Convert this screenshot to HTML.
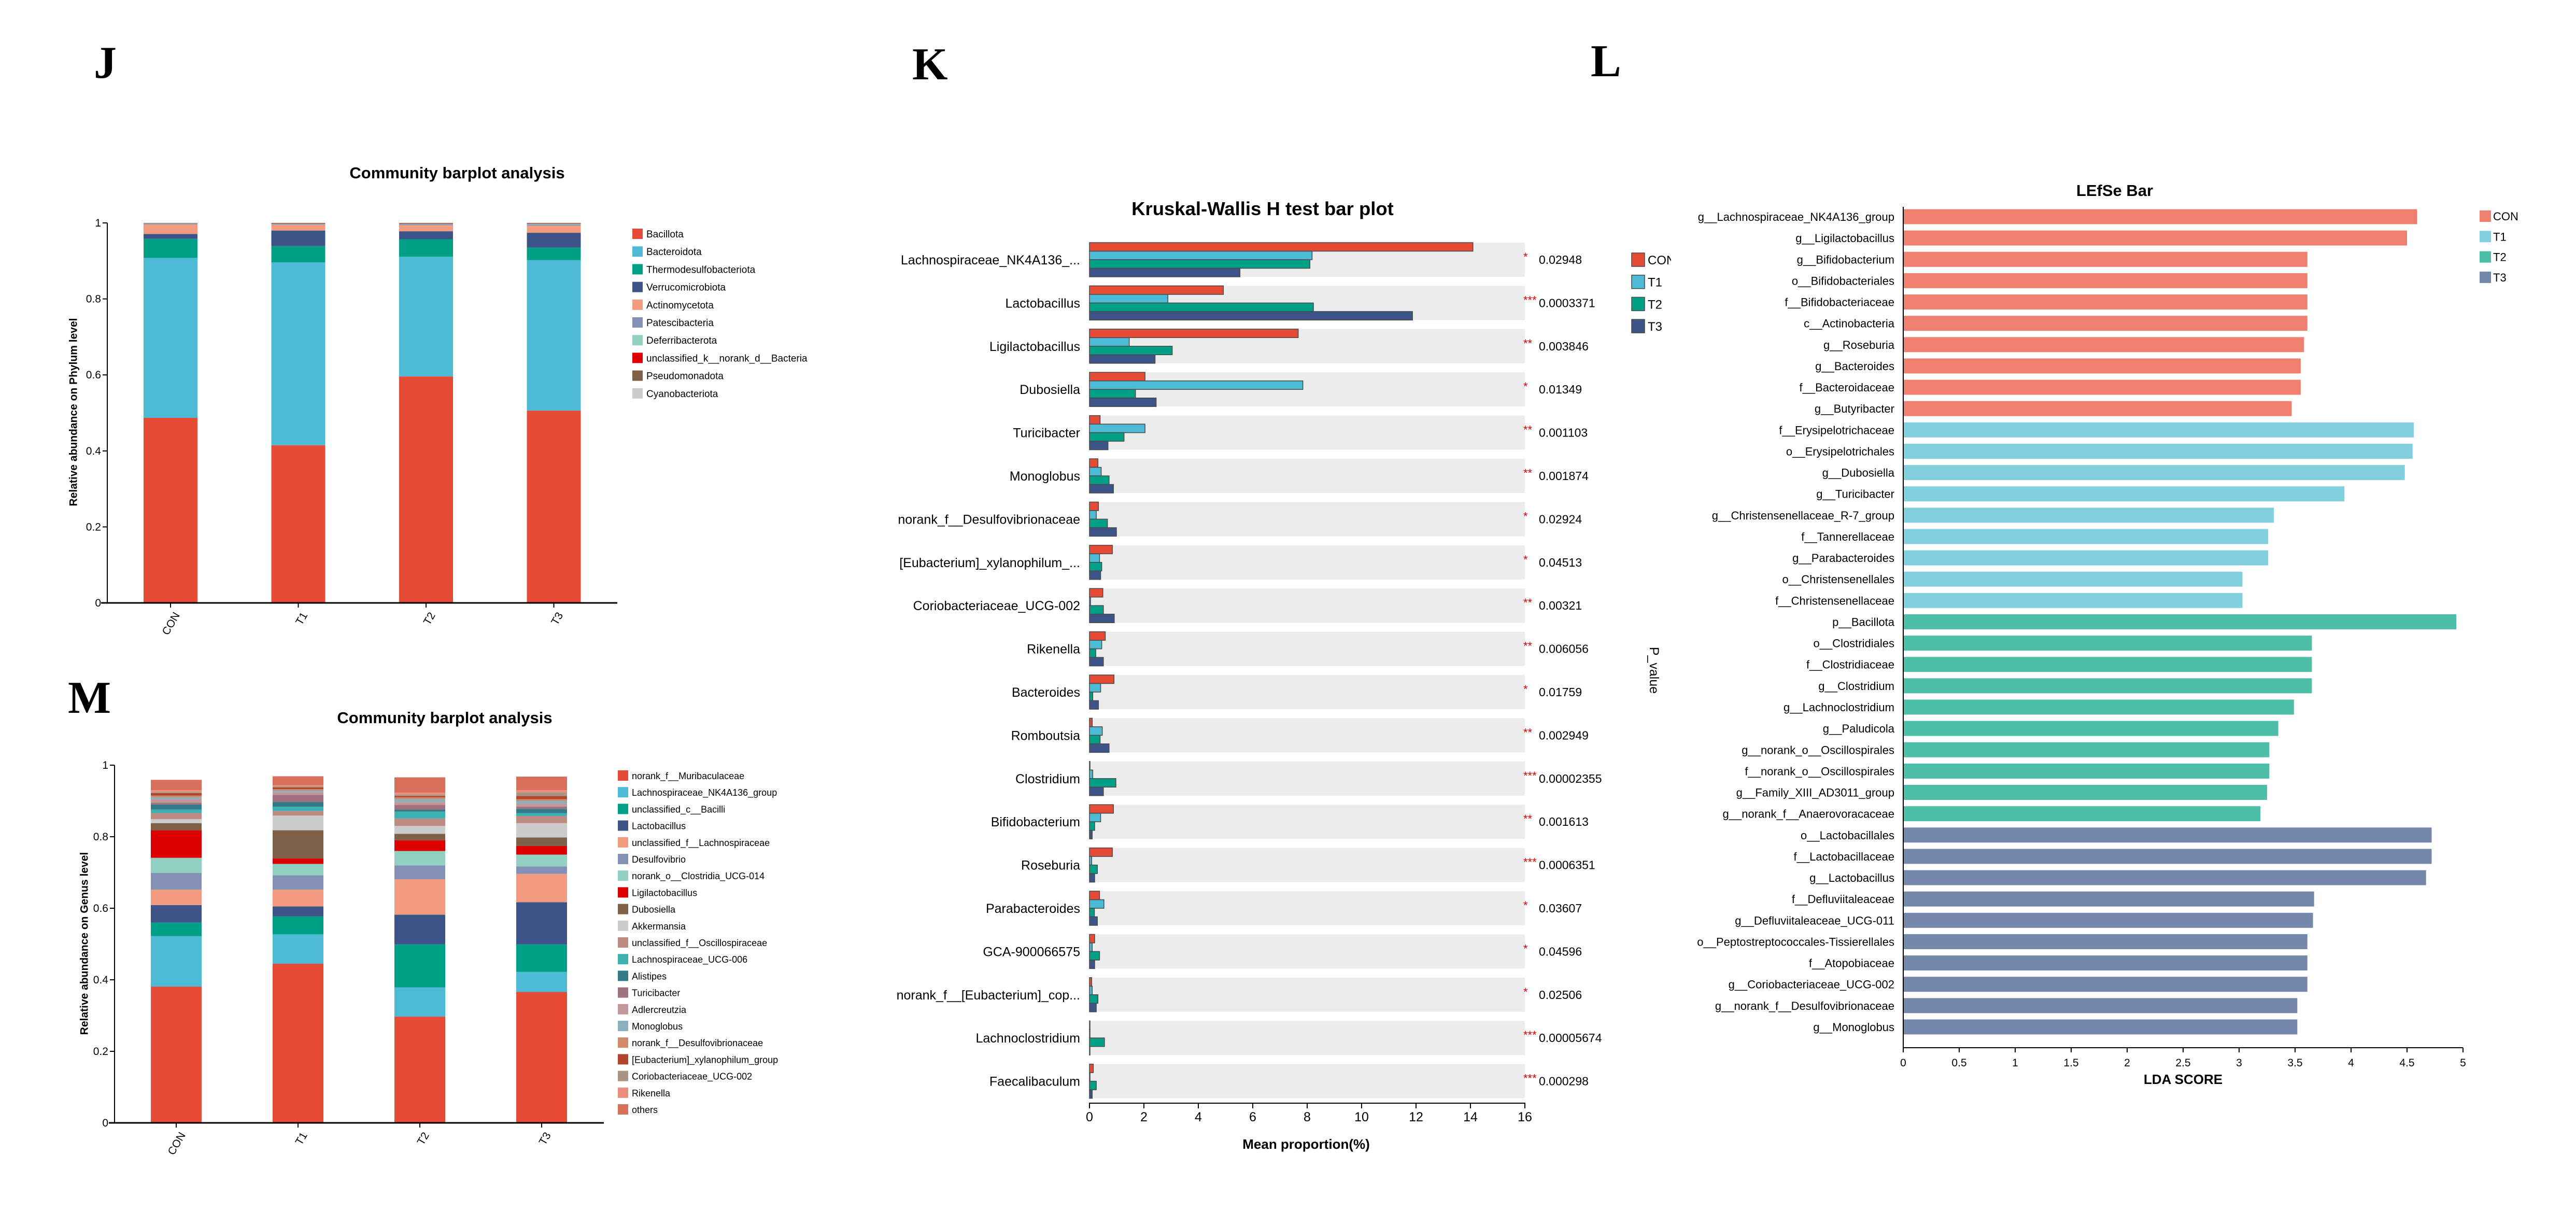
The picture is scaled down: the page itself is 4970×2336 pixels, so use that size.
<!DOCTYPE html>
<html><head><meta charset="utf-8">
<style>
html,body{margin:0;padding:0;background:#fff;}
svg{display:block;font-family:"Liberation Sans",Arial,sans-serif;}
</style></head>
<body>
<svg id="fig" xmlns="http://www.w3.org/2000/svg" width="4970" height="2336" viewBox="0 0 4970 2336">
<rect x="0" y="0" width="4970" height="2336" fill="#fff"/>
<text x="181" y="150" font-family="Liberation Serif, serif" font-weight="bold" font-size="88">J</text>
<text x="1760" y="153" font-family="Liberation Serif, serif" font-weight="bold" font-size="88">K</text>
<text x="3069" y="147" font-family="Liberation Serif, serif" font-weight="bold" font-size="88">L</text>
<text x="131" y="1375" font-family="Liberation Serif, serif" font-weight="bold" font-size="88">M</text>
<defs><clipPath id="kclip"><rect x="2000" y="300" width="1224" height="2000"/></clipPath></defs>
</svg>
<script>
// ---------- Panel J data (phylum) ----------
const jGroups = ['CON','T1','T2','T3'];
const jTaxa = ['Bacillota','Bacteroidota','Thermodesulfobacteriota','Verrucomicrobiota','Actinomycetota','Patescibacteria','Deferribacterota','unclassified_k__norank_d__Bacteria','Pseudomonadota','Cyanobacteriota'];
const jCON = [0.487,0.421,0.050,0.013,0.025,0.002,0.001,0.0005,0.0005,0.0003];
const jT1  = [0.415,0.481,0.043,0.041,0.015,0.002,0.001,0.001,0.001,0.0002];
const jT2  = [0.596,0.315,0.046,0.021,0.016,0.003,0.001,0.001,0.001,0.0002];
const jT3  = [0.506,0.396,0.033,0.039,0.019,0.003,0.002,0.001,0.001,0.0002];
const jTicks = [0,0.2,0.4,0.6,0.8,1];
const jTickLabels = ['0','0.2','0.4','0.6','0.8','1'];

// ---------- Panel M data (genus) ----------
const mGroups = ['CON','T1','T2','T3'];
const mTaxa = ['norank_f__Muribaculaceae','Lachnospiraceae_NK4A136_group','unclassified_c__Bacilli','Lactobacillus','unclassified_f__Lachnospiraceae','Desulfovibrio','norank_o__Clostridia_UCG-014','Ligilactobacillus','Dubosiella','Akkermansia','unclassified_f__Oscillospiraceae','Lachnospiraceae_UCG-006','Alistipes','Turicibacter','Adlercreutzia','Monoglobus','norank_f__Desulfovibrionaceae','[Eubacterium]_xylanophilum_group','Coriobacteriaceae_UCG-002','Rikenella','others'];
const mCON = [0.381,0.141,0.038,0.049,0.043,0.047,0.042,0.077,0.020,0.011,0.017,0.010,0.014,0.005,0.010,0.005,0.005,0.007,0.003,0.005,0.029];
const mT1  = [0.445,0.082,0.050,0.028,0.047,0.040,0.032,0.015,0.079,0.041,0.013,0.012,0.013,0.020,0.008,0.004,0.004,0.005,0.003,0.003,0.025];
const mT2  = [0.297,0.082,0.120,0.083,0.099,0.039,0.040,0.030,0.018,0.022,0.021,0.019,0.006,0.013,0.008,0.008,0.005,0.004,0.004,0.005,0.043];
const mT3  = [0.366,0.056,0.077,0.118,0.079,0.021,0.033,0.024,0.024,0.040,0.020,0.008,0.012,0.006,0.008,0.008,0.005,0.009,0.010,0.006,0.038];

// ---------- Panel K data (Kruskal-Wallis) ----------
const kCats = ['Lachnospiraceae_NK4A136_...','Lactobacillus','Ligilactobacillus','Dubosiella','Turicibacter','Monoglobus','norank_f__Desulfovibrionaceae','[Eubacterium]_xylanophilum_...','Coriobacteriaceae_UCG-002','Rikenella','Bacteroides','Romboutsia','Clostridium','Bifidobacterium','Roseburia','Parabacteroides','GCA-900066575','norank_f__[Eubacterium]_cop...','Lachnoclostridium','Faecalibaculum'];
const kCON = [14.09,4.92,7.67,2.04,0.39,0.31,0.33,0.84,0.49,0.58,0.90,0.10,0.02,0.88,0.84,0.37,0.19,0.08,0.01,0.14];
const kT1  = [8.18,2.88,1.46,7.84,2.04,0.43,0.25,0.37,0.04,0.45,0.41,0.47,0.12,0.41,0.08,0.53,0.10,0.10,0.01,0.02];
const kT2  = [8.10,8.23,3.04,1.69,1.27,0.72,0.66,0.45,0.51,0.23,0.12,0.39,0.97,0.19,0.29,0.18,0.37,0.31,0.55,0.25];
const kT3  = [5.53,11.87,2.41,2.45,0.68,0.88,0.99,0.41,0.91,0.51,0.33,0.72,0.51,0.10,0.19,0.29,0.19,0.25,0.01,0.10];
const kStars = ['*','***','**','*','**','**','*','*','**','**','*','**','***','**','***','*','*','*','***','***'];
const kPvals = ['0.02948','0.0003371','0.003846','0.01349','0.001103','0.001874','0.02924','0.04513','0.00321','0.006056','0.01759','0.002949','0.00002355','0.001613','0.0006351','0.03607','0.04596','0.02506','0.00005674','0.000298'];
const kTicks = [0,2,4,6,8,10,12,14,16];

// ---------- Panel L data (LEfSe) ----------
const lCats = ['g__Lachnospiraceae_NK4A136_group','g__Ligilactobacillus','g__Bifidobacterium','o__Bifidobacteriales','f__Bifidobacteriaceae','c__Actinobacteria','g__Roseburia','g__Bacteroides','f__Bacteroidaceae','g__Butyribacter','f__Erysipelotrichaceae','o__Erysipelotrichales','g__Dubosiella','g__Turicibacter','g__Christensenellaceae_R-7_group','f__Tannerellaceae','g__Parabacteroides','o__Christensenellales','f__Christensenellaceae','p__Bacillota','o__Clostridiales','f__Clostridiaceae','g__Clostridium','g__Lachnoclostridium','g__Paludicola','g__norank_o__Oscillospirales','f__norank_o__Oscillospirales','g__Family_XIII_AD3011_group','g__norank_f__Anaerovoracaceae','o__Lactobacillales','f__Lactobacillaceae','g__Lactobacillus','f__Defluviitaleaceae','g__Defluviitaleaceae_UCG-011','o__Peptostreptococcales-Tissierellales','f__Atopobiaceae','g__Coriobacteriaceae_UCG-002','g__norank_f__Desulfovibrionaceae','g__Monoglobus'];
const lVals = [4.59,4.50,3.61,3.61,3.61,3.61,3.58,3.55,3.55,3.47,4.56,4.55,4.48,3.94,3.31,3.26,3.26,3.03,3.03,4.94,3.65,3.65,3.65,3.49,3.35,3.27,3.27,3.25,3.19,4.72,4.72,4.67,3.67,3.66,3.61,3.61,3.61,3.52,3.52];
const lGroup = ['CON','CON','CON','CON','CON','CON','CON','CON','CON','CON','T1','T1','T1','T1','T1','T1','T1','T1','T1','T2','T2','T2','T2','T2','T2','T2','T2','T2','T2','T3','T3','T3','T3','T3','T3','T3','T3','T3','T3'];
const lGroups = ['CON','T1','T2','T3'];
const lTicks = [0,0.5,1,1.5,2,2.5,3,3.5,4,4.5,5];

const NS='http://www.w3.org/2000/svg';
const svg=document.getElementById('fig');
function mk(tag,attrs,parent){const e=document.createElementNS(NS,tag);for(const k in attrs)e.setAttribute(k,attrs[k]);(parent||svg).appendChild(e);return e;}
function tx(str,attrs,parent){const e=mk('text',attrs,parent);e.textContent=str;return e;}

const phylumColors=['#e64b35','#4dbbd5','#00a087','#3c5488','#f39b7f','#8491b4','#91d1c2','#dc0000','#7e6148','#cccccc'];
const genusColors=['#e64b35','#4dbbd5','#00a087','#3c5488','#f39b7f','#8491b4','#91d1c2','#dc0000','#7e6148','#cccccc','#bf8a82','#3cb2b0','#337b89','#a0727e','#c4979c','#8aafbd','#d08a6a','#b2452b','#a89482','#ea8e7b','#d86f5b'];

function stacked(cfg){
  const g=mk('g',{});
  
  
  const y=v=>cfg.y0-(cfg.y0-cfg.y1)*v;
  const t=tx('Community barplot analysis',{x:cfg.titleX,y:cfg.titleY,'text-anchor':'middle','font-size':31,'font-weight':'bold'},g);
  
  
  cfg.series.forEach((vals,gi)=>{
    const xc=cfg.xc0+gi*cfg.step;
    let acc=0;
    vals.forEach((v,ti)=>{
      const r=mk('rect',{x:xc-cfg.bw/2,y:y(acc+v),width:cfg.bw,height:Math.max(0,y(acc)-y(acc+v)),fill:cfg.colors[ti]},g);
      
      
      acc+=v;
    });
    const tk=mk('line',{x1:xc,x2:xc,y1:cfg.y0,y2:cfg.y0+9,stroke:'#000','stroke-width':2},g);
    
    
    const lb=tx(cfg.groups[gi],{x:xc+6,y:cfg.y0+16,'text-anchor':'end','font-size':21,transform:`rotate(-60 ${xc+6} ${cfg.y0+16})`,'dominant-baseline':'hanging'},g);
    
    
  });
  const ya=mk('line',{x1:cfg.ax,x2:cfg.ax,y1:cfg.y1,y2:cfg.y0,stroke:'#000','stroke-width':2},g);
  
  
  const xa=mk('line',{x1:cfg.xa0,x2:cfg.xa1,y1:cfg.y0,y2:cfg.y0,stroke:'#000','stroke-width':3},g);
  
  
  jTicks.forEach((v,i)=>{
    const l=mk('line',{x1:cfg.ax-9,x2:cfg.ax,y1:y(v),y2:y(v),stroke:'#000','stroke-width':2},g);
    
    
    const tl=tx(jTickLabels[i],{x:cfg.ax-12,y:y(v)+7,'text-anchor':'end','font-size':21},g);
    
    
  });
  const yt=tx(cfg.ytitle,{x:cfg.ytX,y:cfg.ytY,'text-anchor':'middle','font-size':21,'font-weight':'bold',transform:`rotate(-90 ${cfg.ytX} ${cfg.ytY})`,'dominant-baseline':'central'},g);
  
  
  cfg.taxa.forEach((n,i)=>{
    const cy=cfg.legY+i*cfg.legStep;
    const s=mk('rect',{x:cfg.legX,y:cy-10,width:20,height:20,fill:cfg.colors[i]},g);
    
    
    const lt=tx(n,{x:cfg.legX+27,y:cy+7,'font-size':cfg.legFont},g);
    
    
  });
}

stacked({name:'phylum-barplot',groups:jGroups,taxa:jTaxa,series:[jCON,jT1,jT2,jT3],colors:phylumColors,
  y0:1163,y1:430,ax:207,xa0:195,xa1:1191,xc0:329,step:246.5,bw:104,titleX:882,titleY:344,
  ytitle:'Relative abundance on Phylum level',ytX:142,ytY:795,legX:1220,legY:451,legStep:34.2,legFont:19});
stacked({name:'genus-barplot',groups:mGroups,taxa:mTaxa,series:[mCON,mT1,mT2,mT3],colors:genusColors,
  y0:2166,y1:1476,ax:221,xa0:210,xa1:1165,xc0:340,step:235,bw:98,titleX:858,titleY:1395,
  ytitle:'Relative abundance on Genus level',ytX:163,ytY:1820,legX:1192,legY:1496,legStep:32.2,legFont:18});

// ---------- Panel K ----------
(function(){
  const g=mk('g',{});
  
  
  const kColors=['#e64b35','#4dbbd5','#00a087','#3c5488'];
  const series=[kCON,kT1,kT2,kT3];
  const x=v=>2102+v*(840/16);
  const t=tx('Kruskal-Wallis H test bar plot',{x:2436,y:415,'text-anchor':'middle','font-size':36.5,'font-weight':'bold'},g);
  
  
  kCats.forEach((c,i)=>{
    const top=468+i*83.4, h=66, cy=top+h/2;
    const b=mk('rect',{x:x(0),y:top,width:x(16)-x(0),height:h,fill:'#ececec'},g);
    
    
    series.forEach((s,si)=>{
      const r=mk('rect',{x:x(0),y:top+si*h/4,width:Math.max(1,x(s[i])-x(0)),height:h/4,fill:kColors[si],stroke:'#4a4a4a','stroke-width':1.5},g);
      
      
    });
    const lb=tx(c,{x:2084,y:cy+9,'text-anchor':'end','font-size':25},g);
    
    
    const st=tx(kStars[i],{x:2939,y:cy+2,'font-size':22,fill:'#e00000'},g);
    
    
    const pv=tx(kPvals[i],{x:2969,y:cy+8,'font-size':23},g);
    
    
  });
  const xa=mk('line',{x1:x(0)-1,x2:x(16)+1,y1:2128,y2:2128,stroke:'#000','stroke-width':2},g);
  
  
  kTicks.forEach(v=>{
    const l=mk('line',{x1:x(v),x2:x(v),y1:2128,y2:2138,stroke:'#000','stroke-width':2},g);
    
    
    const tl=tx(String(v),{x:x(v),y:2163,'text-anchor':'middle','font-size':25},g);
    
    
  });
  const xt=tx('Mean proportion(%)',{x:2520,y:2216,'text-anchor':'middle','font-size':26,'font-weight':'bold'},g);
  
  
  const lg=mk('g',{'clip-path':'url(#kclip)'},g);
  
  
  ['CON','T1','T2','T3'].forEach((n,i)=>{
    const cy=501+i*42.7;
    const s=mk('rect',{x:3148,y:cy-13,width:25,height:26,fill:kColors[i],stroke:'#4a4a4a','stroke-width':1.5},lg);
    
    
    const lt=tx(n,{x:3179,y:cy+9,'font-size':24},lg);
    
    
  });
  const pt=tx('P_value',{x:3191,y:1293,'text-anchor':'middle','font-size':25,transform:'rotate(90 3191 1293)','dominant-baseline':'central'},g);
  
  
})();

// ---------- Panel L ----------
(function(){
  const g=mk('g',{});
  
  
  const lColors={CON:'#ef8070',T1:'#82cfe0',T2:'#4dbea8',T3:'#7587ab'};
  const x=v=>3672+v*216;
  const t=tx('LEfSe Bar',{x:4080,y:378,'text-anchor':'middle','font-size':31,'font-weight':'bold'},g);
  
  
  lCats.forEach((c,i)=>{
    const cy=418+i*41.13;
    const r=mk('rect',{x:x(0),y:cy-14.5,width:x(lVals[i])-x(0),height:29,fill:lColors[lGroup[i]]},g);
    
    
    const lb=tx(c,{x:3655,y:cy+8,'text-anchor':'end','font-size':22},g);
    
    
  });
  const ya=mk('line',{x1:x(0),x2:x(0),y1:399,y2:2021,stroke:'#000','stroke-width':2},g);
  
  
  const xa=mk('line',{x1:x(0),x2:x(5),y1:2021,y2:2021,stroke:'#000','stroke-width':2},g);
  
  
  lTicks.forEach(v=>{
    const l=mk('line',{x1:x(v),x2:x(v),y1:2021,y2:2030,stroke:'#000','stroke-width':2},g);
    
    
    const tl=tx(String(v),{x:x(v),y:2057,'text-anchor':'middle','font-size':21},g);
    
    
  });
  const xt=tx('LDA SCORE',{x:4212,y:2091,'text-anchor':'middle','font-size':26,'font-weight':'bold'},g);
  
  
  lGroups.forEach((n,i)=>{
    const cy=417+i*39.3;
    const s=mk('rect',{x:4784,y:cy-11,width:22,height:22,fill:lColors[n]},g);
    
    
    const lt=tx(n,{x:4810,y:cy+8,'font-size':22},g);
    
    
  });
})();
</script>
</body></html>
